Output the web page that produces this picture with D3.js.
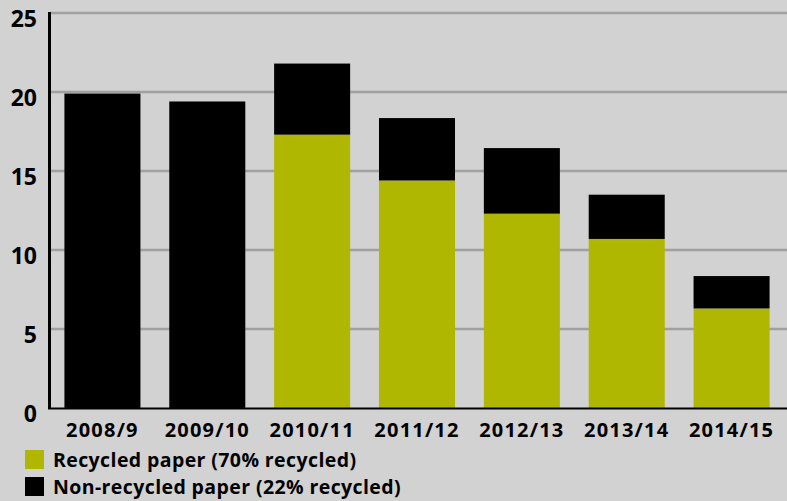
<!DOCTYPE html>
<html><head><meta charset="utf-8">
<script src="https://cdn.jsdelivr.net/npm/d3@7"></script>
<style>body{margin:0;background:#d2d2d2;}svg{display:block;}text{font-family:"Open Sans",sans-serif;font-weight:700;fill:#000;}</style>
</head><body><svg id="c" width="787" height="501"></svg>
<script>
const years = ["2008/9","2009/10","2010/11","2011/12","2012/13","2013/14","2014/15"];
const recycled = [0, 0, 17.3, 14.4, 12.3, 10.7, 6.3];
const nonRecycled = [19.9, 19.4, 4.5, 3.95, 4.15, 2.8, 2.05];
const yTicks = [0,5,10,15,20,25];
const legendLabels = ["Recycled paper (70% recycled)","Non-recycled paper (22% recycled)"];
const colors = ["#afb700","#000000"];

const svg = d3.select("#c");
svg.append("rect").attr("width",787).attr("height",501).attr("fill","#d2d2d2");
const x = d3.scaleBand().domain(years).range([50,784]).paddingInner(0.275).paddingOuter(0.1375);
const y = d3.scaleLinear().domain([0,25]).range([408,13]);

// gridlines
svg.append("g").selectAll("line").data(yTicks.filter(d=>d>0)).join("line")
  .attr("x1",50).attr("x2",787).attr("y1",d=>y(d)).attr("y2",d=>y(d))
  .attr("stroke","#a0a0a0").attr("stroke-width",2.5);

const data = years.map((yr,i)=>({yr, r:recycled[i], n:nonRecycled[i]}));
const stack = d3.stack().keys(["r","n"])(data);
svg.append("g").selectAll("g").data(stack).join("g").attr("fill",(d,i)=>colors[i])
  .selectAll("rect").data(d=>d).join("rect")
  .attr("x",d=>x(d.data.yr)).attr("width",x.bandwidth())
  .attr("y",d=>y(d[1])).attr("height",d=>y(d[0])-y(d[1]));

// axes lines
svg.append("line").attr("x1",49.5).attr("x2",49.5).attr("y1",12).attr("y2",409).attr("stroke","#000").attr("stroke-width",3);
svg.append("line").attr("x1",48).attr("x2",787).attr("y1",408.5).attr("y2",408.5).attr("stroke","#000").attr("stroke-width",2);

// y tick labels
svg.append("g").selectAll("text").data(yTicks).join("text")
  .attr("x",37).attr("y",d=>y(d)+14).attr("text-anchor","end").attr("font-size",23).text(d=>d);

// x labels
svg.append("g").selectAll("text").data(years).join("text")
  .attr("x",d=>x(d)+x.bandwidth()/2).attr("y",437).attr("text-anchor","middle")
  .attr("font-size",20).attr("letter-spacing",1.2).text(d=>d);

// legend
const lg = svg.append("g").selectAll("g").data(legendLabels).join("g")
  .attr("transform",(d,i)=>`translate(25,${450+i*27})`);
lg.append("rect").attr("width",19).attr("height",19).attr("fill",(d,i)=>colors[i]);
lg.append("text").attr("x",28).attr("y",17).attr("font-size",19.5).attr("letter-spacing",0.4).text(d=>d);
</script></body></html>
